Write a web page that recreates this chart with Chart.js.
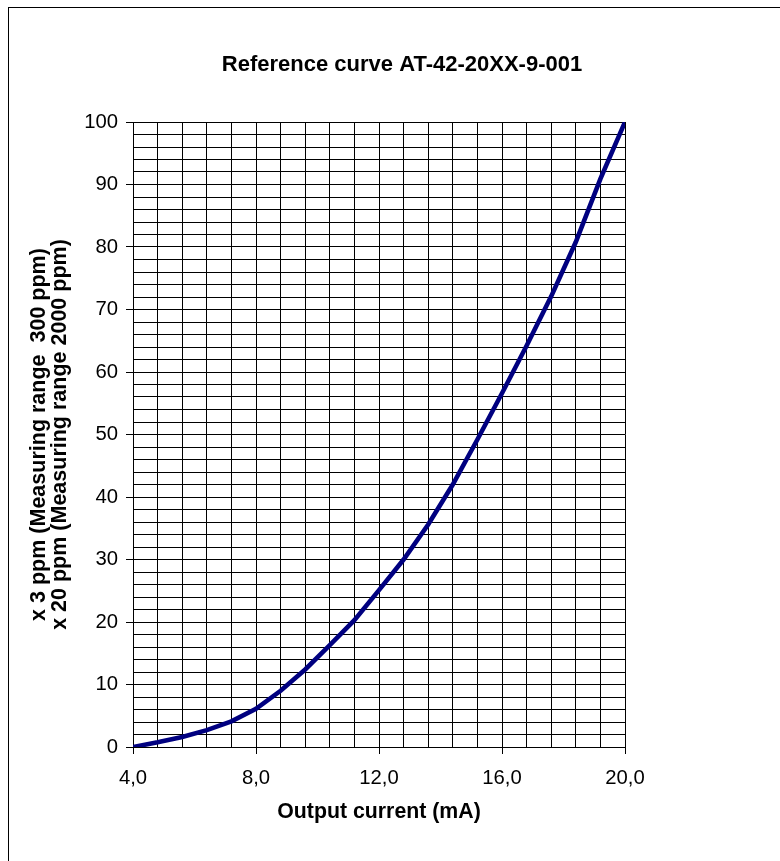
<!DOCTYPE html>
<html>
<head>
<meta charset="utf-8">
<script src="https://cdn.jsdelivr.net/npm/chart.js@4.4.1/dist/chart.umd.min.js"></script>
<style>
html,body{margin:0;padding:0;background:#fff;overflow:hidden;}
#wrap{position:relative;width:780px;height:861px;overflow:hidden;}
#frame{position:absolute;left:8px;top:7px;width:900px;height:1000px;border:1px solid #000;box-sizing:border-box;}
#c{position:absolute;left:0;top:0;}
</style>
</head>
<body>
<div id="wrap"><div id="frame"></div><canvas id="c" width="780" height="861"></canvas></div>
<script>
// Data
const currentMA = [4.0, 4.8, 5.6, 6.4, 7.2, 8.0, 8.8, 9.6, 10.4, 11.2, 12.0, 12.8, 13.6, 14.4, 15.2, 16.0, 16.8, 17.6, 18.4, 19.2, 20.0];
const readingValues = [0, 0.75, 1.6, 2.7, 4.1, 6.1, 9.0, 12.4, 16.3, 20.3, 25.1, 30.0, 35.6, 42.0, 49.2, 56.6, 64.2, 72.1, 80.8, 90.9, 100];
const xMajorTicks = [4, 8, 12, 16, 20];
const yMajorTicks = [0, 10, 20, 30, 40, 50, 60, 70, 80, 90, 100];
const chartTitle = 'Reference curve AT-42-20XX-9-001';
const xTitle = 'Output current (mA)';
const yTitleLines = ['x 3 ppm (Measuring range  300 ppm)', 'x 20 ppm (Measuring range 2000 ppm)'];

const isMajor = (list, v) => list.some(t => Math.abs(t - v) < 1e-6);
const fmtX = v => v.toFixed(1).replace('.', ',');

Chart.defaults.font.family = '"Liberation Sans", Arial, sans-serif';
Chart.defaults.color = '#000';

const points = currentMA.map((x, i) => ({x: x, y: readingValues[i]}));

new Chart(document.getElementById('c'), {
  type: 'line',
  data: {
    datasets: [{
      data: points,
      borderColor: '#000080',
      borderWidth: 4.6,
      pointRadius: 0,
      tension: 0,
      fill: false
    }]
  },
  options: {
    responsive: false,
    devicePixelRatio: 1,
    animation: false,
    layout: {padding: {left: 24, right: 0, top: 0, bottom: 0}},
    plugins: {
      legend: {display: false},
      tooltip: {enabled: false},
      title: {
        display: true,
        text: chartTitle,
        color: '#000',
        font: {size: 22, weight: 'bold'},
        padding: {top: 51.3, bottom: 44.3}
      }
    },
    scales: {
      x: {
        type: 'linear',
        min: 4, max: 20,
        ticks: {
          stepSize: 0.8, autoSkip: false, maxRotation: 0, padding: 12,
          font: {size: 20.3}, color: '#000',
          callback: v => isMajor(xMajorTicks, v) ? fmtX(v) : ''
        },
        grid: {
          color: '#000', lineWidth: 1, tickLength: 7,
          tickColor: ctx => (ctx.tick && isMajor(xMajorTicks, ctx.tick.value)) ? '#000' : 'rgba(0,0,0,0)'
        },
        border: {display: true, color: '#000', width: 1},
        title: {
          display: true, text: xTitle, color: '#000',
          font: {size: 21.3, weight: 'bold'},
          padding: {top: 0, bottom: 36}
        },
        afterFit: s => { s.height = 114; }
      },
      y: {
        type: 'linear',
        min: 0, max: 100,
        ticks: {
          stepSize: 2, autoSkip: false, padding: 8,
          font: {size: 20.3}, color: '#000',
          callback: v => isMajor(yMajorTicks, v) ? String(v) : ''
        },
        grid: {
          color: '#000', lineWidth: 1, tickLength: 7,
          tickColor: ctx => (ctx.tick && isMajor(yMajorTicks, ctx.tick.value)) ? '#000' : 'rgba(0,0,0,0)'
        },
        border: {display: true, color: '#000', width: 1},
        title: {
          display: true, text: yTitleLines, color: '#000',
          font: {size: 21.5, weight: 'bold', lineHeight: 1},
          padding: {top: 4.25, bottom: 0}
        },
        afterFit: s => { s.width = 109; }
      },
      yRightSpace: {
        type: 'linear',
        position: 'right',
        display: true,
        grid: {display: false},
        border: {display: false},
        ticks: {display: false},
        afterFit: s => { s.width = 155; }
      }
    }
  }
});
</script>
</body>
</html>
